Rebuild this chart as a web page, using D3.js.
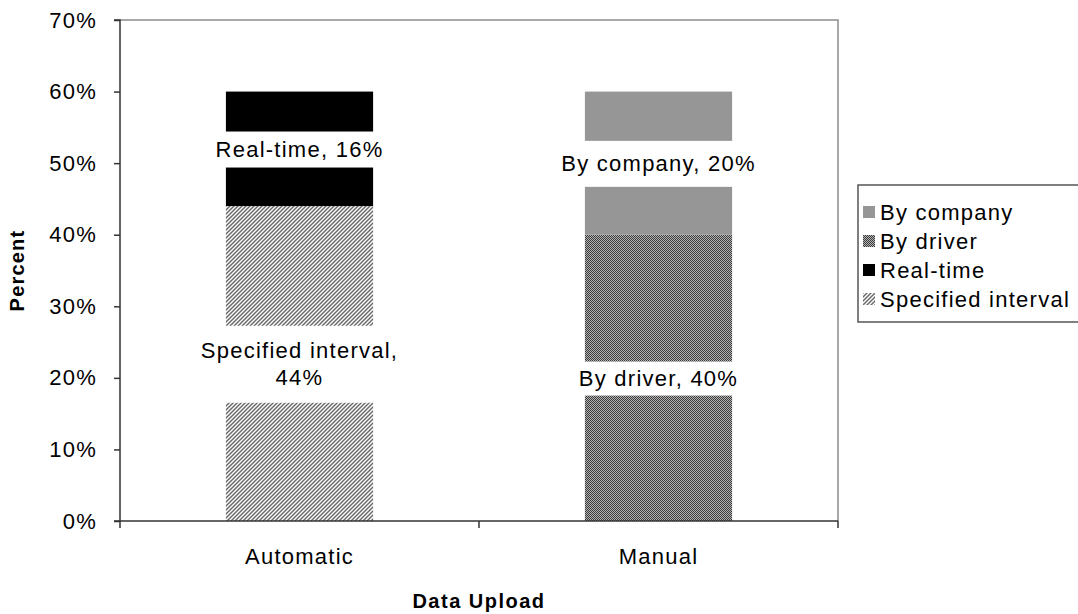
<!DOCTYPE html>
<html><head><meta charset="utf-8">
<script src="https://cdn.jsdelivr.net/npm/d3@7"></script>
<style>
html,body{margin:0;padding:0;background:#fff;}
svg text{font-family:"Liberation Sans",Arial,sans-serif;fill:#000;}
</style></head>
<body>
<svg id="chart" width="1078" height="614"></svg>
<script>
// ---- data ----
const categories = ["Automatic", "Manual"];
const seriesNames = ["Specified interval", "Real-time", "By driver", "By company"];
const automaticValues = [44, 16, 0, 0];
const manualValues = [0, 0, 40, 20];
const yTickValues = [0, 10, 20, 30, 40, 50, 60, 70];
const legendOrder = ["By company", "By driver", "Real-time", "Specified interval"];
const dataLabels = {
  "Specified interval": ["Specified interval,", "44%"],
  "Real-time": ["Real-time, 16%"],
  "By driver": ["By driver, 40%"],
  "By company": ["By company, 20%"]
};
// label box vertical padding (style)
const labelPad = {"Specified interval":15, "Real-time":8, "By driver":7, "By company":13};

const svg = d3.select("#chart");
const m = {left:120, top:20, right:838, bottom:521};
const FS = 22, LS = "1.25px";

const defs = svg.append("defs");
// diagonal stripes
const p1 = defs.append("pattern").attr("id","stripes").attr("patternUnits","userSpaceOnUse")
  .attr("width",4).attr("height",4);
p1.append("rect").attr("width",4).attr("height",4).attr("fill","#fff");
p1.append("path").attr("d","M-1,1 l2,-2 M0,4 l4,-4 M3,5 l2,-2").attr("stroke","#6a6a6a").attr("stroke-width",1.5);
// checker
const p2 = defs.append("pattern").attr("id","checker").attr("patternUnits","userSpaceOnUse")
  .attr("width",2).attr("height",2);
p2.append("rect").attr("width",2).attr("height",2).attr("fill","#b4b4b4");
p2.append("rect").attr("width",1).attr("height",1).attr("fill","#3a3a3a");
p2.append("rect").attr("x",1).attr("y",1).attr("width",1).attr("height",1).attr("fill","#3a3a3a");

const fills = {"Specified interval":"url(#stripes)","Real-time":"#000","By driver":"url(#checker)","By company":"#969696"};

const x = d3.scaleBand().domain(categories).range([m.left, m.right]).paddingInner(0.59).paddingOuter(0.295);
const y = d3.scaleLinear().domain([0,70]).range([m.bottom, m.top]);

// plot border (top/right)
svg.append("path").attr("d",`M${m.left},${m.top}H${m.right}V${m.bottom}`).attr("fill","none").attr("stroke","#8c8c8c").attr("stroke-width",1.5);

// stacked data
const rows = categories.map((c,i)=>{
  const o = {cat:c};
  const vals = i===0?automaticValues:manualValues;
  seriesNames.forEach((s,j)=>o[s]=vals[j]);
  return o;
});
const stack = d3.stack().keys(seriesNames)(rows);

const segs = [];
stack.forEach(layer=>{
  layer.forEach(d=>{
    if (d[1]-d[0] > 0) segs.push({key:layer.key, cat:d.data.cat, y0:d[0], y1:d[1]});
  });
});

svg.append("g").selectAll("rect").data(segs).join("rect")
  .attr("x",d=>x(d.cat)).attr("width",x.bandwidth())
  .attr("y",d=>y(d.y1)).attr("height",d=>y(d.y0)-y(d.y1))
  .attr("fill",d=>fills[d.key]);

// data labels with white backgrounds
const lblG = svg.append("g");
segs.forEach(d=>{
  const lines = dataLabels[d.key];
  const cx = x(d.cat)+x.bandwidth()/2;
  const cy = y((d.y0+d.y1)/2);
  const lh = 27;
  const g = lblG.append("g");
  const bg = g.append("rect").attr("fill","#fff");
  const t = g.append("text").attr("text-anchor","middle").attr("font-size",FS).style("letter-spacing",LS);
  lines.forEach((ln,i)=>{
    t.append("tspan").attr("x",cx).attr("y",cy + (i-(lines.length-1)/2)*lh).attr("dy","0.35em").text(ln);
  });
  const bb = t.node().getBBox();
  const padY = labelPad[d.key];
  bg.attr("x",bb.x-4).attr("width",bb.width+8).attr("y",bb.y-padY+3).attr("height",bb.height+2*padY-5);
});

// y axis
const yAxis = svg.append("g").attr("transform",`translate(${m.left},0)`)
  .call(d3.axisLeft(y).tickValues(yTickValues).tickFormat(d=>d+"%").tickSize(6).tickPadding(17));
yAxis.select(".domain").attr("stroke","#333").attr("stroke-width",1.5).attr("d",`M-6,${m.top}H0V${m.bottom}H-6`);
yAxis.selectAll(".tick line").attr("stroke","#333").attr("stroke-width",1.5);
yAxis.selectAll(".tick text").attr("font-size",FS).attr("font-family","Liberation Sans, Arial, sans-serif").attr("fill","#000").style("letter-spacing",LS);

// x axis
const xAxis = svg.append("g").attr("transform",`translate(0,${m.bottom})`)
  .call(d3.axisBottom(x).tickSize(0).tickPadding(27));
xAxis.select(".domain").attr("stroke","#333").attr("stroke-width",1.5).attr("d",`M${m.left},0H${m.right}`);
xAxis.selectAll(".tick text").attr("font-size",FS).attr("font-family","Liberation Sans, Arial, sans-serif").attr("fill","#000").style("letter-spacing",LS);
// category separators
const seps = [m.left, (x(categories[0])+x.bandwidth()+x(categories[1]))/2, m.right];
xAxis.selectAll(".sep").data(seps).join("line").attr("class","sep")
  .attr("x1",d=>d).attr("x2",d=>d).attr("y1",0).attr("y2",7).attr("stroke","#333").attr("stroke-width",1.5);

// axis titles
svg.append("text").attr("transform",`translate(24,${(m.top+m.bottom)/2}) rotate(-90)`)
  .attr("text-anchor","middle").attr("font-size",20).attr("font-weight","bold").style("letter-spacing","1.2px").text("Percent");
svg.append("text").attr("x",(m.left+m.right)/2).attr("y",608)
  .attr("text-anchor","middle").attr("font-size",20).attr("font-weight","bold").style("letter-spacing","1.5px").text("Data Upload");

// legend
const lg = svg.append("g");
lg.append("rect").attr("x",858).attr("y",185).attr("width",240).attr("height",137)
  .attr("fill","#fff").attr("stroke","#555").attr("stroke-width",1.5);
legendOrder.forEach((s,i)=>{
  const yy = 212 + i*29;
  lg.append("rect").attr("x",863).attr("y",yy-6).attr("width",12).attr("height",12).attr("fill",fills[s]);
  lg.append("text").attr("x",880).attr("y",yy).attr("dy","0.35em").attr("font-size",FS).style("letter-spacing",LS).text(s);
});
</script>
</body></html>
